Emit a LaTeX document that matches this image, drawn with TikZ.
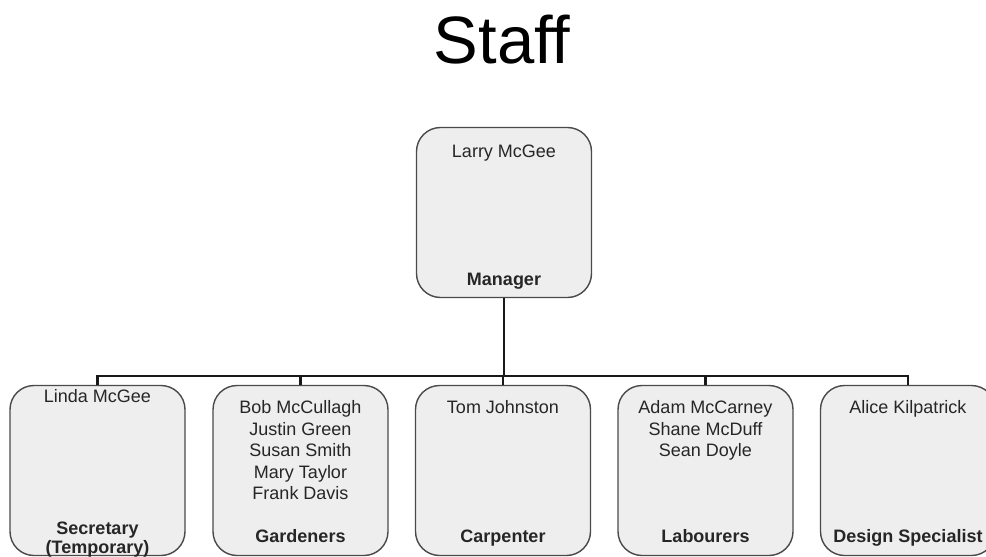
\documentclass[tikz,border=0pt]{standalone}
\usepackage{fontspec}
\setmainfont{Liberation Sans}
\usetikzlibrary{positioning}
\definecolor{boxFill}{HTML}{EEEEEE}
\definecolor{boxLine}{HTML}{4A4A4A}

\begin{document}
\begin{tikzpicture}[x=0.5pt, y=-0.5pt,
    staffbox/.style={draw=boxLine, fill=boxFill, line width=0.7pt, rounded corners=12pt,
      minimum width=87.5pt, minimum height=85pt, inner sep=0pt},
    namelist/.style={font=\fontsize{9}{10.8}\selectfont, text=black!85, align=center, anchor=north, inner sep=0pt},
    rolelabel/.style={font=\fontsize{9}{10}\selectfont\bfseries, text=black!85, align=center, anchor=base, inner sep=0pt},
    link/.style={line width=1.3pt, black!90}]
    \useasboundingbox (0,0) rectangle (986,557);

    \node[font=\fontsize{33.5}{36}\selectfont, anchor=base] (title) at (502,63) {Staff};

    % boxes
    \node[staffbox] (mgr) at (504,212.5) {};
    \node[staffbox] (sec) at (97.5,470.5) {};
    \node[staffbox] (gard) at (300.5,470.5) {};
    \node[staffbox] (carp) at (503,470.5) {};
    \node[staffbox] (lab) at (705.5,470.5) {};
    \node[staffbox] (des) at (908,470.5) {};

    % connectors
    \coordinate (bar) at (504,376);
    \draw[link] (mgr.south) -- (bar);
    \draw[link] (sec.north) |- (bar) -| (des.north);
    \draw[link] (gard.north) -- (gard.north |- bar);
    \draw[link] (carp.north) -- (carp.north |- bar);
    \draw[link] (lab.north) -- (lab.north |- bar);

    % names
    \node[namelist] (mgrnames) at (504,145) {Larry McGee};
    \node[namelist] (secnames) at (97.5,389) {Linda McGee};
    \node[namelist] (gardnames) at (300.5,400) {Bob McCullagh\\Justin Green\\Susan Smith\\Mary Taylor\\Frank Davis};
    \node[namelist] (carpnames) at (503,400) {Tom Johnston};
    \node[namelist] (labnames) at (705.5,400) {Adam McCarney\\Shane McDuff\\Sean Doyle};
    \node[namelist] (desnames) at (908,400) {Alice Kilpatrick};

    % roles
    \node[rolelabel] (mgrrole) at (504,285) {Manager};
    \node[rolelabel] (secrole) at (97.5,553) {Secretary\\[-0.5pt](Temporary)};
    \node[rolelabel] (gardrole) at (300.5,542) {Gardeners};
    \node[rolelabel] (carprole) at (503,542) {Carpenter};
    \node[rolelabel] (labrole) at (705.5,542) {Labourers};
    \node[rolelabel] (desrole) at (908,542) {Design Specialist};
\end{tikzpicture}
\end{document}
